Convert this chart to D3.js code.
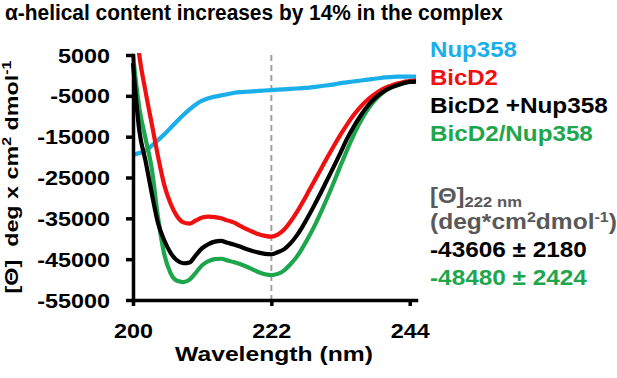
<!DOCTYPE html>
<html>
<head>
<meta charset="utf-8">
<script src="https://d3js.org/d3.v7.min.js"></script>
<style>
  body { margin: 0; background: #fff; }
  text { font-family: "Liberation Sans", Arial, sans-serif; font-weight: bold; }
</style>
</head>
<body>
<svg width="617" height="378"></svg>
<script>
// wavelength (nm), 1 nm steps
const wavelengths = d3.range(200, 246);

// mean residue ellipticity
const nup358 = [-19500, -19000, -18400, -17200, -15800, -14400, -12800, -11200, -9700, -8300,
  -7100, -6200, -5600, -5200, -4900, -4600, -4300, -4100, -4000, -3900,
  -3800, -3700, -3600, -3500, -3400, -3300, -3200, -3100, -3000, -2800,
  -2600, -2400, -2200, -1900, -1700, -1500, -1300, -1100, -900, -700,
  -500, -400, -300, -300, -300, -300];
const bicd2 = [20000, 5000, -4000, -12000, -20000, -27000, -31500, -34500, -36000, -36300,
  -35500, -34800, -34600, -34700, -35000, -35500, -36000, -36800, -37600, -38300,
  -38900, -39300, -39500, -39000, -37800, -35900, -33600, -31000, -28200, -25400,
  -22600, -19800, -17100, -14500, -12100, -9900, -8000, -6400, -5100, -4000,
  -3100, -2500, -2000, -1600, -1400, -1200];
const bicd2PlusNup = [3000, -13500, -21000, -29000, -36300, -40500, -43500, -45300, -46000, -45800,
  -44000, -42300, -41300, -40700, -40500, -41000, -41400, -41900, -42500, -43000,
  -43400, -43700, -43800, -43300, -42600, -41200, -39300, -36900, -34200, -31300,
  -28300, -25200, -22100, -18900, -15600, -12800, -10300, -8100, -6300, -4900,
  -3800, -3000, -2400, -1900, -1600, -1500];
const bicd2Nup = [5000, -8000, -15500, -23000, -35000, -44000, -48500, -50300, -50600, -50000,
  -48300, -46500, -45500, -45000, -44900, -45300, -45700, -46200, -46800, -47500,
  -48200, -48700, -48900, -48600, -47800, -46300, -44500, -42100, -39400, -36400,
  -33100, -29600, -25900, -22100, -18400, -14900, -11800, -9100, -6900, -5200,
  -3900, -3000, -2400, -1900, -1500, -1400];

const yTicks = [5000, -5000, -15000, -25000, -35000, -45000, -55000];
const xTicks = [200, 222, 244];

const seriesNames = ["Nup358", "BicD2", "BicD2 +Nup358", "BicD2/Nup358"];
const seriesColors = ["#1aaeea", "#f01010", "#000000", "#1ea64c"];
const seriesValues = [nup358, bicd2, bicd2PlusNup, bicd2Nup];

const svg = d3.select("svg");

const x = d3.scaleLinear().domain([200, 245]).range([133, 416]);
const y = d3.scaleLinear().domain([-55000, 5000]).range([300, 55]);

// text helper: builds the text, then stretches it to the width seen in the figure
function label(px, py, parts, opt) {
  const t = svg.append("text")
    .attr("text-anchor", opt.anchor || "start")
    .attr("fill", opt.fill || "#000")
    .attr("font-size", opt.size)
    .style("white-space", "pre");
  parts.forEach(p => {
    const s = typeof p === "string" ? { t: p } : p;
    const ts = t.append("tspan").text(s.t);
    if (s.size) ts.attr("font-size", s.size);
    if (s.dy) ts.attr("dy", s.dy);
  });
  const w = t.node().getBBox().width;
  const sx = opt.width ? opt.width / w : 1;
  const rot = opt.rotate ? ` rotate(${opt.rotate})` : "";
  t.attr("transform", `translate(${px},${py})${rot} scale(${sx},1)`);
  return t;
}

// title
label(5, 20, ["α-helical content increases by 14% in the complex"], { size: 21.5, width: 498 });

// dashed marker at 222 nm
svg.append("line")
  .attr("x1", x(222)).attr("x2", x(222))
  .attr("y1", y(5000)).attr("y2", y(-55000))
  .attr("stroke", "#a0a0a0")
  .attr("stroke-width", 2)
  .attr("stroke-dasharray", "6,4");

// curves
svg.append("clipPath").attr("id", "plot")
  .append("rect").attr("x", 130).attr("y", 53).attr("width", 300).attr("height", 250);

const line = d3.line()
  .x((d, i) => x(wavelengths[i]))
  .y(d => y(d))
  .curve(d3.curveMonotoneX);

const curves = svg.append("g").attr("clip-path", "url(#plot)");
// drawing order: blue under the rest, black on top of green
[0, 3, 1, 2].forEach(k => {
  curves.append("path")
    .datum(seriesValues[k])
    .attr("fill", "none")
    .attr("stroke", seriesColors[k])
    .attr("stroke-width", 4.2)
    .attr("stroke-linejoin", "round")
    .attr("d", line);
});

// axes
const yAxis = svg.append("g")
  .attr("transform", `translate(${x(200)},0)`)
  .call(d3.axisLeft(y).tickValues(yTicks).tickSize(7).tickSizeOuter(0).tickFormat(d => String(d)));
const xAxis = svg.append("g")
  .attr("transform", `translate(0,${y(-55000)})`)
  .call(d3.axisBottom(x).tickValues(xTicks).tickSize(6).tickSizeOuter(0));

[yAxis, xAxis].forEach(a => {
  a.select(".domain").attr("stroke-width", 3.5).attr("stroke-linecap", "square");
  a.selectAll(".tick line").attr("stroke-width", 3.5);
  a.selectAll(".tick text").attr("font-size", 19.5).attr("fill", "#000")
    .attr("font-family", null);
});
yAxis.selectAll(".tick text")
  .attr("x", 0).attr("dy", null).attr("y", 7)
  .attr("transform", "translate(-23,0) scale(1.2,1)");
xAxis.selectAll(".tick text")
  .attr("y", 38).attr("dy", null)
  .attr("transform", "scale(1.2,1)");

// axis titles
label(274, 361, ["Wavelength (nm)"], { size: 21, anchor: "middle", width: 198 });
label(18, 177, ["[Θ]  deg x cm", { t: "2", size: 13, dy: -7 }, { t: " dmol", dy: 7 }, { t: "-1", size: 13, dy: -7 }],
  { size: 19, anchor: "middle", width: 233, rotate: -90 });

// legend
const legendY = [57, 85, 113, 141];
const legendW = [87, 68, 178, 163];
seriesNames.forEach((n, i) => {
  label(430, legendY[i], [n], { size: 21.5, fill: seriesColors[i], width: legendW[i] });
});

// values at 222 nm
label(430, 203, ["[Θ]", { t: "222 nm", size: 15, dy: 4 }], { size: 21.5, fill: "#595959", width: 92 });
label(430, 229, ["(deg*cm", { t: "2", size: 14, dy: -7 }, { t: "dmol", dy: 7 }, { t: "-1", size: 14, dy: -7 }, { t: ")", dy: 7 }],
  { size: 21.5, fill: "#595959", width: 187 });
label(430, 257, ["-43606 ± 2180"], { size: 21.5, fill: "#000", width: 157 });
label(430, 285, ["-48480 ± 2424"], { size: 21.5, fill: seriesColors[3], width: 157 });
</script>
</body>
</html>
